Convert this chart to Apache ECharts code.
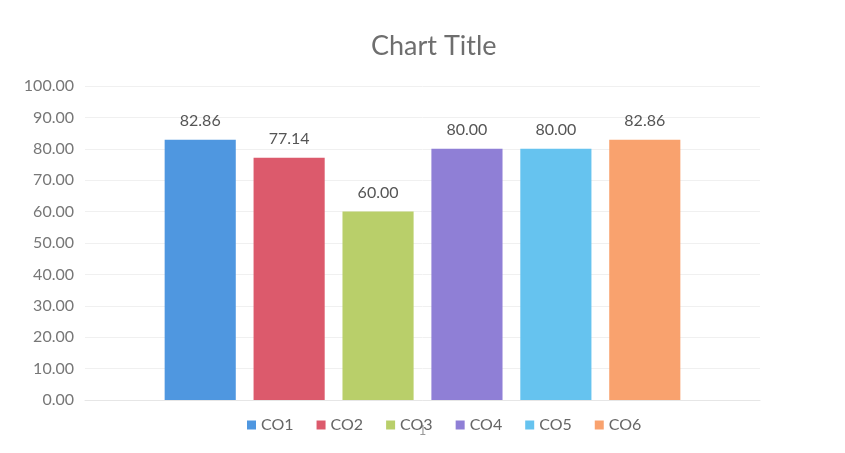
<!DOCTYPE html>
<html>
<head>
<meta charset="utf-8">
<script src="https://cdn.jsdelivr.net/npm/echarts@6/dist/echarts.min.js"></script>
<style>html,body{margin:0;padding:0;background:#fff}#c{width:845px;height:453px}</style>
</head>
<body>
<div id="c"></div>
<script>
const categories = ['1'];
const seriesNames = ['CO1', 'CO2', 'CO3', 'CO4', 'CO5', 'CO6'];
const seriesValues = [82.86, 77.14, 60.00, 80.00, 80.00, 82.86];
const colors = ['#4f97e0', '#dc5a6c', '#b9cf6a', '#8f7fd6', '#66c3ef', '#f9a26e'];
const font = 'Lato, "Open Sans", sans-serif';

const chart = echarts.init(document.getElementById('c'));
chart.setOption({
  animation: false,
  title: {
    text: 'Chart Title', left: 366, top: 28,
    textStyle: { fontFamily: font, fontSize: 27, fontWeight: 'normal', color: '#6e6e6e' }
  },
  legend: {
    bottom: 15, left: 242, itemWidth: 9, itemHeight: 9, itemGap: 23,
    icon: 'rect',
    textStyle: { fontFamily: font, fontSize: 16, color: '#666' },
    data: seriesNames
  },
  grid: { left: 85, right: 85, top: 86, bottom: 53 },
  xAxis: {
    type: 'category', data: categories,
    axisLine: { lineStyle: { color: '#e6e6e6' } },
    axisTick: { show: false },
    axisLabel: { color: '#999', fontFamily: font, fontSize: 13, margin: 24 }
  },
  yAxis: {
    type: 'value', min: 0, max: 100, interval: 10,
    axisLabel: { formatter: v => v.toFixed(2), color: '#777', fontFamily: font, fontSize: 16, margin: 11 },
    splitLine: { lineStyle: { color: '#f0f0f0' } },
    axisLine: { show: false }, axisTick: { show: false }
  },
  series: seriesNames.map((n, i) => ({
    name: n, type: 'bar',
    data: [seriesValues[i]],
    barGap: '25%', barCategoryGap: '23.6%',
    itemStyle: { color: colors[i] },
    label: {
      show: true, position: 'top', distance: 11,
      formatter: p => p.value.toFixed(2),
      color: '#555', fontFamily: font, fontSize: 16
    }
  }))
});
</script>
</body>
</html>
